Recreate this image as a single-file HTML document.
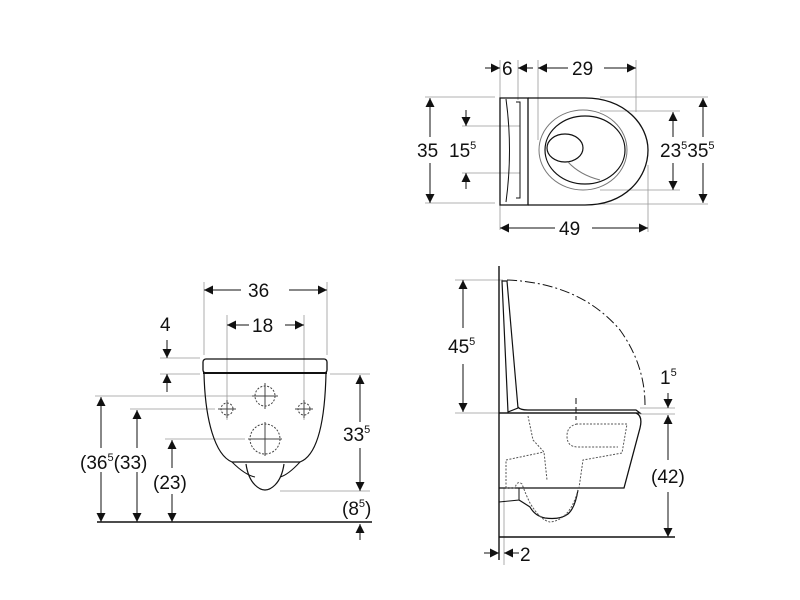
<!DOCTYPE html>
<html><head><style>
html,body{margin:0;padding:0;background:#fff;}
svg{display:block}
text{font-family:"Liberation Sans",sans-serif;font-size:19px;fill:#111;}
.s{font-size:11px}
</style></head><body>
<svg width="800" height="600" viewBox="0 0 800 600" xmlns="http://www.w3.org/2000/svg">
<defs>
<marker id="a" viewBox="0 0 10 10" refX="10" refY="5" markerWidth="9" markerHeight="9" orient="auto-start-reverse" markerUnits="userSpaceOnUse"><path d="M0,0 L10,5 L0,10z" fill="#111"/></marker>
</defs>
<g stroke="#111" fill="none" stroke-width="1">
<!-- TOP VIEW -->
<g stroke="#999" stroke-width="0.8">
<line x1="500" y1="60" x2="500" y2="230"/><line x1="518" y1="60" x2="518" y2="100"/><line x1="538" y1="60" x2="538" y2="140"/><line x1="636" y1="60" x2="636" y2="112"/>
<line x1="425" y1="97" x2="495" y2="97"/><line x1="425" y1="203" x2="495" y2="203"/>
<line x1="462" y1="126" x2="520" y2="126"/><line x1="462" y1="173" x2="520" y2="173"/>
<line x1="600" y1="111" x2="680" y2="111"/><line x1="600" y1="190" x2="680" y2="190"/>
<line x1="600" y1="97" x2="708" y2="97"/><line x1="600" y1="204" x2="708" y2="204"/>
<line x1="648" y1="165" x2="648" y2="232"/>
</g>
<line x1="485" y1="68" x2="500" y2="68" marker-end="url(#a)"/>
<line x1="533" y1="68" x2="518" y2="68" marker-end="url(#a)"/>
<line x1="538" y1="68" x2="568" y2="68" marker-start="url(#a)"/>
<line x1="604" y1="68" x2="636" y2="68" marker-end="url(#a)"/>
<line x1="430" y1="98" x2="430" y2="137" marker-start="url(#a)"/><line x1="430" y1="163" x2="430" y2="203" marker-end="url(#a)"/>
<line x1="466" y1="110" x2="466" y2="126" marker-end="url(#a)"/><line x1="466" y1="189" x2="466" y2="173" marker-end="url(#a)"/>
<line x1="673" y1="112" x2="673" y2="137" marker-start="url(#a)"/><line x1="673" y1="163" x2="673" y2="190" marker-end="url(#a)"/>
<line x1="703" y1="98" x2="703" y2="137" marker-start="url(#a)"/><line x1="703" y1="163" x2="703" y2="203" marker-end="url(#a)"/>
<line x1="500" y1="228" x2="555" y2="228" marker-start="url(#a)"/><line x1="592" y1="228" x2="648" y2="228" marker-end="url(#a)"/>
<path d="M500,98 H528 V205 H500 Z" stroke-width="1.3"/>
<path d="M506,99 Q513,150 506,202" />
<path d="M516,102 H520 V198 H516"/>
<path d="M528,98 H585 C625,98 648,125 648,150 C648,178 625,205 585,205 H528" stroke-width="1.3"/>
<ellipse cx="583" cy="150" rx="44" ry="40" stroke="#777"/>
<ellipse cx="585" cy="150" rx="40" ry="34" stroke-width="1.2"/>
<ellipse cx="565" cy="148" rx="18" ry="14" stroke-width="1.2"/>
<path d="M568,162 Q580,175 600,180" stroke="#777"/>
<!-- FRONT VIEW -->
<g stroke="#999" stroke-width="0.8">
<line x1="204" y1="282" x2="204" y2="355"/><line x1="327" y1="282" x2="327" y2="355"/>
<line x1="227" y1="315" x2="227" y2="420"/><line x1="304" y1="315" x2="304" y2="420"/>
<line x1="160" y1="358" x2="200" y2="358"/><line x1="160" y1="374" x2="200" y2="374"/><line x1="330" y1="374" x2="370" y2="374"/>
<line x1="95" y1="396" x2="255" y2="396"/><line x1="130" y1="409" x2="215" y2="409"/><line x1="165" y1="439" x2="245" y2="439"/>
<line x1="280" y1="491" x2="370" y2="491"/>
</g>
<line x1="204" y1="290" x2="241" y2="290" marker-start="url(#a)"/><line x1="289" y1="290" x2="327" y2="290" marker-end="url(#a)"/>
<line x1="227" y1="325" x2="249" y2="325" marker-start="url(#a)"/><line x1="285" y1="325" x2="304" y2="325" marker-end="url(#a)"/>
<line x1="167" y1="340" x2="167" y2="358" marker-end="url(#a)"/><line x1="167" y1="392" x2="167" y2="374" marker-end="url(#a)"/>
<line x1="360" y1="375" x2="360" y2="422" marker-start="url(#a)"/><line x1="360" y1="448" x2="360" y2="491" marker-end="url(#a)"/>
<line x1="101" y1="397" x2="101" y2="448" marker-start="url(#a)"/><line x1="101" y1="472" x2="101" y2="522" marker-end="url(#a)"/>
<line x1="137" y1="410" x2="137" y2="448" marker-start="url(#a)"/><line x1="137" y1="472" x2="137" y2="522" marker-end="url(#a)"/>
<line x1="172" y1="440" x2="172" y2="468" marker-start="url(#a)"/><line x1="172" y1="494" x2="172" y2="522" marker-end="url(#a)"/>
<line x1="360" y1="540" x2="360" y2="524" marker-end="url(#a)"/>
<line x1="97" y1="522" x2="372" y2="522" stroke-width="1.4"/>
<rect x="203" y="359" width="124" height="14" rx="3" stroke-width="1.3"/>
<line x1="203" y1="373" x2="327" y2="373" stroke-width="2"/>
<path d="M204,373 C205,420 215,455 232,462 H300 C318,455 325,420 326,373" stroke-width="1.2"/>
<path d="M232,462 Q245,475 255,477 M300,462 Q288,475 280,477"/>
<path d="M246,464 Q248,478 255,485 Q265,495 275,485 Q282,478 284,464" stroke-width="1.2"/>
<g stroke-dasharray="2 1.5" stroke="#444"><circle cx="265" cy="396" r="10"/><circle cx="265" cy="439" r="15"/><circle cx="227" cy="409" r="6"/><circle cx="304" cy="409" r="6"/></g>
<g stroke="#444"><path d="M265,383 V409 M252,396 H278 M265,422 V456 M248,439 H282 M227,400 V418 M218,409 H236 M304,400 V418 M295,409 H313"/></g>
<!-- SIDE VIEW -->
<g stroke="#999" stroke-width="0.8">
<line x1="455" y1="280" x2="503" y2="280"/><line x1="455" y1="413" x2="499" y2="413"/>
<line x1="640" y1="408" x2="675" y2="408"/><line x1="640" y1="414" x2="675" y2="414"/>
<line x1="504" y1="488" x2="504" y2="565"/>
</g>
<line x1="499" y1="266" x2="499" y2="560" stroke-width="1.4"/>
<line x1="499" y1="537" x2="675" y2="537" stroke-width="1.4"/>
<line x1="463" y1="280" x2="463" y2="328" marker-start="url(#a)"/><line x1="463" y1="364" x2="463" y2="412" marker-end="url(#a)"/>
<line x1="668" y1="393" x2="668" y2="408" marker-end="url(#a)"/>
<line x1="668" y1="415" x2="668" y2="460" marker-start="url(#a)"/><line x1="668" y1="492" x2="668" y2="537" marker-end="url(#a)"/>
<line x1="484" y1="553" x2="499" y2="553" marker-end="url(#a)"/><line x1="519" y1="553" x2="504" y2="553" marker-end="url(#a)"/>
<path d="M502,281 H507 L518,408 L508,412 Z" stroke-width="1.2"/>
<path d="M518,407 Q520,410 528,410 H636 L640,413 H499" stroke-width="1.2"/>
<path d="M499,413 H636 Q643,416 640,428 L624,488 H499" stroke-width="1.3"/>
<path d="M499,488 H519 V500 L499,502"/>
<path d="M519,500 Q527,505 530,507 Q535,516 545,518 Q560,520 568,514 Q575,508 578,490" stroke-width="1.2"/>
<path d="M507,280 Q580,283 620,330 Q645,365 645,405" stroke-dasharray="10 3 2 3"/>
<line x1="576" y1="398" x2="576" y2="420" stroke-dasharray="6 3"/>
<g stroke-dasharray="2 1.5" stroke="#555">
<path d="M528,416 L533,440 L544,452 L547,480"/>
<path d="M576,424 H627 L622,453 L583,460 L579,488"/>
<path d="M577,424 Q567,426 567,436 Q567,447 578,447 H618"/>
<path d="M506,488 V460 L544,452"/>
<path d="M506,488 H515 Q517,480 522,484 Q526,495 530,503 Q540,520 550,522 Q570,520 578,490"/>
</g>
</g>
<text x="502" y="75">6</text><text x="572" y="75">29</text>
<text x="417" y="157">35</text><text x="449" y="157">15<tspan class="s" dy="-8">5</tspan></text>
<text x="660" y="157">23<tspan class="s" dy="-8">5</tspan><tspan dy="8">35</tspan><tspan class="s" dy="-8">5</tspan></text>
<text x="559" y="235">49</text>
<text x="248" y="297">36</text><text x="252" y="332">18</text><text x="160" y="331">4</text>
<text x="343" y="441">33<tspan class="s" dy="-8">5</tspan></text>
<text x="80" y="469">(36<tspan class="s" dy="-8">5</tspan><tspan dy="8">(33)</tspan></text>
<text x="153" y="489">(23)</text>
<text x="342" y="515">(8<tspan class="s" dy="-8">5</tspan><tspan dy="8">)</tspan></text>
<text x="448" y="353">45<tspan class="s" dy="-8">5</tspan></text>
<text x="660" y="384">1<tspan class="s" dy="-8">5</tspan></text>
<text x="651" y="483">(42)</text>
<text x="520" y="561">2</text>
</svg>
</body></html>
